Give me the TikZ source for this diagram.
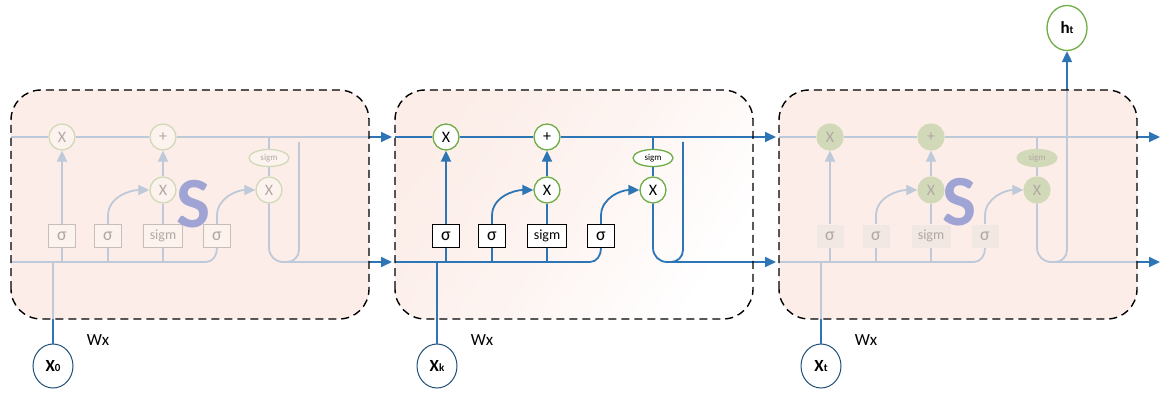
\documentclass[tikz,border=0pt]{standalone}
\usepackage{fontspec}
\setmainfont{Carlito}
\usetikzlibrary{arrows.meta,shapes.geometric}
\definecolor{cblue}{RGB}{46,117,182}
\definecolor{cgreen}{RGB}{112,173,71}
\definecolor{cpink}{RGB}{252,237,232}
\definecolor{cnavy}{RGB}{31,78,121}
\definecolor{cwater}{RGB}{160,164,212}
\newcommand{\fs}[1]{\fontsize{#1}{#1}\selectfont}
\tikzset{
  flow/.style={draw=cblue, line width=1.8pt},
  arr/.style={flow, -{Triangle[length=11pt,width=10pt]}},
  mul/.style={circle, draw=cgreen, line width=1.3pt, minimum size=26pt, inner sep=0pt, font=\fs{16}},
  sgell/.style={ellipse, draw=cgreen, line width=1.3pt, minimum width=40pt, minimum height=17pt, inner sep=0pt, font=\fs{9}},
  gate/.style={rectangle, line width=1.4pt, minimum width=27pt, minimum height=23pt, inner sep=0pt, font=\fs{18}},
  inp/.style={ellipse, draw=cnavy, line width=1pt, fill=white, minimum width=40pt, minimum height=44pt, inner sep=0pt, font=\fs{17}\bfseries},
  outp/.style={ellipse, draw=cgreen, line width=1.3pt, fill=white, minimum width=40pt, minimum height=45pt, inner sep=0pt, font=\fs{17}\bfseries},
  cellbox/.style={draw=black, dash pattern=on 8pt off 5pt, line width=1.4pt, rounded corners=30pt},
  wlab/.style={font=\fs{17}}
}
\begin{document}
\begin{tikzpicture}[x=1pt,y=1pt]
  \useasboundingbox (0,0) rectangle (1166,394);
  % cell backgrounds
  \fill[cpink, rounded corners=30pt] (11,75) rectangle (369,304);
  \shade[rounded corners=30pt, top color=cpink, bottom color=white, middle color=white!40!cpink, shading angle=55] (395,75) rectangle (753,304);
  \fill[cpink, rounded corners=30pt] (779,75) rectangle (1137,304);
  % three copies of the cell
  \foreach \cn/\dx/\cfill/\gdraw/\gfill/\lab in {l/-384/white/black!70/white/0, m/0/white/black/white/k, r/384/cgreen/none/gray!30/t} {
    \begin{scope}[xshift=\dx]
      \coordinate (tl\cn) at (395,257);
      \coordinate (bl\cn) at (395,132);
      \node[mul, fill=\cfill] (fx\cn) at (446,257) {X};
      \node[mul, fill=\cfill] (add\cn) at (547,257) {+};
      \node[mul, fill=\cfill] (ix\cn) at (547,204) {X};
      \node[mul, fill=\cfill] (ox\cn) at (653,204) {X};
      \node[sgell, fill=\cfill] (sg\cn) at (653,236) {sigm};
      \node[gate, draw=\gdraw, fill=\gfill] (fg\cn) at (446,158) {σ};
      \node[gate, draw=\gdraw, fill=\gfill] (ig\cn) at (492,158) {σ};
      \node[gate, draw=\gdraw, fill=\gfill, minimum width=39pt, font=\fs{14}] (cg\cn) at (547,158) {sigm};
      \node[gate, draw=\gdraw, fill=\gfill] (og\cn) at (601,158) {σ};
      \node[inp] (in\cn) at (437,28) {X{\fs{11}\lab}};
      \node[wlab] (w\cn) at (482,54) {Wx};
      \draw[flow] (tl\cn) -- (fx\cn);
      \draw[flow] (fx\cn) -- (add\cn);
      \draw[arr] (add\cn) -- (776,257);
      \draw[flow] (bl\cn) -- (590,132) to[out=0,in=-90] (og\cn.south);
      \draw[flow] (fg\cn.south) -- (fg\cn.south |- bl\cn);
      \draw[flow] (ig\cn.south) -- (ig\cn.south |- bl\cn);
      \draw[flow] (cg\cn.south) -- (cg\cn.south |- bl\cn);
      \draw[flow] (in\cn) -- (in\cn |- bl\cn);
      \draw[arr] (fg\cn) -- (fx\cn);
      \draw[arr] (ig\cn.north) -- ++(0,8) to[out=90,in=180] (ix\cn.west);
      \draw[flow] (cg\cn) -- (ix\cn);
      \draw[arr] (ix\cn) -- (add\cn);
      \draw[arr] (og\cn.north) -- ++(0,8) to[out=90,in=180] (ox\cn.west);
      \draw[flow] (sg\cn) -- (sg\cn |- tl\cn);
      \draw[flow] (sg\cn) -- (ox\cn);
      \draw[arr] (ox\cn.south) -- (653,146) to[out=-90,in=180] (667,132) -- (776,132);
      \draw[flow] (683,252) -- (683,144) to[out=-90,in=0] (671,132);
    \end{scope}
  }
  \node[outp] (ht) at (1067,366) {h{\fs{11}t}};
  \draw[arr] (1067,144) -- (ht);
  % faded side cells
  \foreach \dx in {-384,384}
    \fill[cpink, opacity=0.7, rounded corners=30pt, xshift=\dx] (395,75) rectangle (753,304);
  \node[font=\fs{72}\bfseries, text=cwater] (sl) at (194,190) {S};
  \node[font=\fs{72}\bfseries, text=cwater] (sr) at (960,192) {S};
  \foreach \dx in {-384,0,384}
    \draw[cellbox, xshift=\dx] (395,75) rectangle (753,304);
\end{tikzpicture}
\end{document}
